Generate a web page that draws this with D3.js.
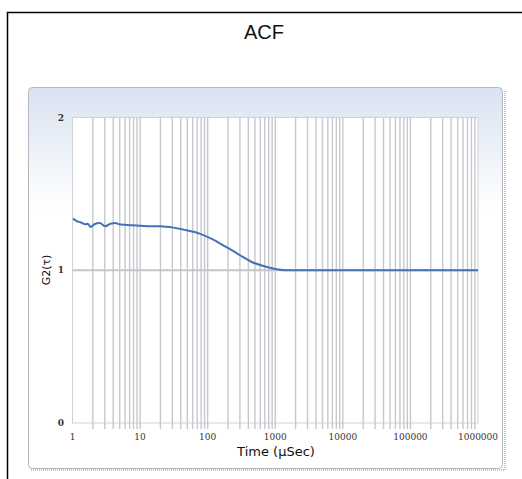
<!DOCTYPE html>
<html>
<head>
<meta charset="utf-8">
<script src="https://cdn.jsdelivr.net/npm/d3@7"></script>
<style>
  body { margin: 0; background: #fff; }
  svg { display: block; }
</style>
</head>
<body>
<svg id="chart" width="522" height="479"></svg>
<script>
// Data (tau in µs, G2 value)
const tauValues = [1.02, 1.15, 1.31, 1.56, 1.68, 1.85, 2.11, 2.53, 3.07, 3.64, 4.32, 5.12, 7.97, 10, 11.3, 20, 31, 43.6, 78, 121, 170, 240, 330, 450, 665, 1000, 1400, 2000, 10000, 100000, 1000000];
const g2Values = [1.338, 1.322, 1.314, 1.301, 1.305, 1.283, 1.301, 1.309, 1.288, 1.305, 1.309, 1.299, 1.294, 1.292, 1.289, 1.288, 1.279, 1.266, 1.238, 1.200, 1.163, 1.125, 1.087, 1.054, 1.028, 1.008, 1.0, 1.0, 1.0, 1.0, 1.0];
const xTickValues = [1, 10, 100, 1000, 10000, 100000, 1000000];
const yTickValues = [0, 1, 2];

const svg = d3.select('#chart');

// Outer frame (top and left lines only)
svg.append('path')
    .attr('d', 'M7.5,479 L7.5,12.5 L522,12.5')
    .attr('fill', 'none')
    .attr('stroke', '#000')
    .attr('stroke-width', 1.5);

// Title
svg.append('text')
    .attr('x', 264)
    .attr('y', 39)
    .attr('text-anchor', 'middle')
    .style('font-family', 'Liberation Sans, Arial, sans-serif')
    .style('font-size', '20px')
    .style('fill', '#111')
    .text('ACF');

// Panel gradient
const defs = svg.append('defs');
const grad = defs.append('linearGradient')
    .attr('id', 'panelGrad')
    .attr('x1', 0).attr('y1', 0).attr('x2', 0).attr('y2', 1);
grad.append('stop').attr('offset', '0%').attr('stop-color', '#d9e3f1');
grad.append('stop').attr('offset', '32%').attr('stop-color', '#ffffff');
grad.append('stop').attr('offset', '100%').attr('stop-color', '#ffffff');

// Panel shadow (dotted edges)
svg.append('path')
    .attr('d', 'M31,470 L505,470 L505,90')
    .attr('fill', 'none')
    .attr('stroke', '#c4c4c4')
    .attr('stroke-width', 2)
    .attr('stroke-dasharray', '1,1');

svg.append('rect')
    .attr('x', 28.5)
    .attr('y', 87.5)
    .attr('width', 474)
    .attr('height', 381)
    .attr('rx', 4)
    .attr('fill', 'url(#panelGrad)')
    .attr('stroke', '#b4b8bd')
    .attr('stroke-width', 1);

// Plot area
const plot = { left: 72.5, top: 117.5, right: 478, bottom: 423 };

const x = d3.scaleLog()
    .domain([1, 1000000])
    .range([plot.left, plot.right]);

const y = d3.scaleLinear()
    .domain([0, 2])
    .range([plot.bottom, plot.top]);

svg.append('rect')
    .attr('x', plot.left)
    .attr('y', plot.top)
    .attr('width', plot.right - plot.left)
    .attr('height', plot.bottom - plot.top)
    .attr('fill', '#fff')
    .attr('stroke', '#cfd2d6')
    .attr('stroke-width', 1);

// Vertical grid lines at every minor tick, extended a little below the plot
const minorTicks = x.ticks().filter(t => t > 1 && t < 1000000);
svg.append('g')
    .selectAll('line')
    .data(minorTicks)
    .enter().append('line')
    .attr('x1', d => x(d))
    .attr('x2', d => x(d))
    .attr('y1', plot.top)
    .attr('y2', plot.bottom + 6)
    .attr('stroke', '#c5c9ce')
    .attr('stroke-width', 1.4);

// Horizontal grid line at 1
svg.append('line')
    .attr('x1', plot.left)
    .attr('x2', plot.right)
    .attr('y1', y(1))
    .attr('y2', y(1))
    .attr('stroke', '#c3c6ca')
    .attr('stroke-width', 2);

// X tick labels
svg.append('g')
    .selectAll('text')
    .data(xTickValues)
    .enter().append('text')
    .attr('x', d => x(d))
    .attr('y', 440)
    .attr('text-anchor', 'middle')
    .style('font-family', 'DejaVu Serif, serif')
    .style('font-size', '9px')
    .style('fill', '#333')
    .text(d => d);

// Y tick labels
svg.append('g')
    .selectAll('text')
    .data(yTickValues)
    .enter().append('text')
    .attr('x', 64)
    .attr('y', d => y(d) + 3)
    .attr('text-anchor', 'end')
    .style('font-family', 'DejaVu Serif, serif')
    .style('font-size', '9px')
    .style('font-weight', 'bold')
    .style('fill', '#333')
    .text(d => d);

// Axis titles
svg.append('text')
    .attr('x', 276)
    .attr('y', 456)
    .attr('text-anchor', 'middle')
    .style('font-family', 'DejaVu Sans, sans-serif')
    .style('font-size', '13px')
    .style('fill', '#111')
    .text('Time (µSec)');

svg.append('text')
    .attr('transform', 'translate(50,270) rotate(-90)')
    .attr('text-anchor', 'middle')
    .style('font-family', 'DejaVu Sans, sans-serif')
    .style('font-size', '11px')
    .style('fill', '#111')
    .text('G2(τ)');

// ACF curve
const points = tauValues.map((t, i) => [t, g2Values[i]]);
const line = d3.line()
    .x(d => x(d[0]))
    .y(d => y(d[1]))
    .curve(d3.curveMonotoneX);

svg.append('path')
    .datum(points)
    .attr('d', line)
    .attr('fill', 'none')
    .attr('stroke', '#4472b4')
    .attr('stroke-width', 2);
</script>
</body>
</html>
